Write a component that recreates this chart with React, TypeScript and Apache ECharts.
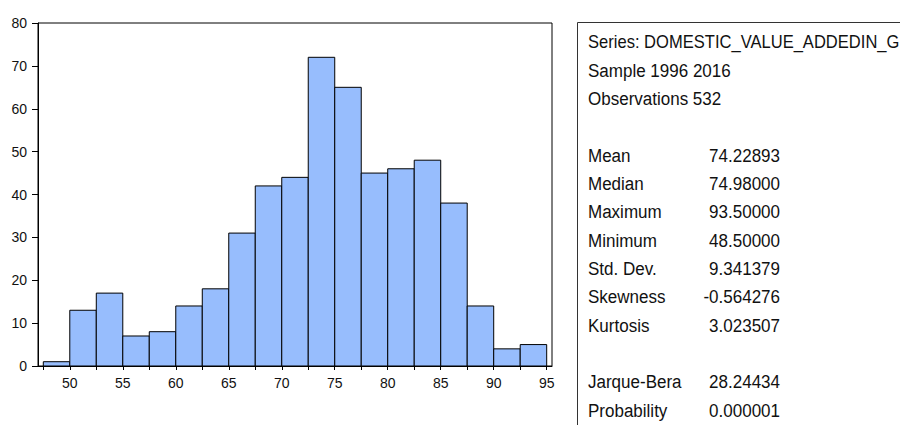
import React, { useEffect, useRef } from "react";
import * as echarts from "echarts";

// Histogram bins (left edges) and frequencies
const binStarts = [47.5, 50, 52.5, 55, 57.5, 60, 62.5, 65, 67.5, 70, 72.5, 75, 77.5, 80, 82.5, 85, 87.5, 90, 92.5];
const binWidth = 2.5;
const counts = [1, 13, 17, 7, 8, 14, 18, 31, 42, 44, 72, 65, 45, 46, 48, 38, 14, 4, 5];

// Axis ticks and labels
const xTickValues = [47.5, 50, 52.5, 55, 57.5, 60, 62.5, 65, 67.5, 70, 72.5, 75, 77.5, 80, 82.5, 85, 87.5, 90, 92.5, 95];
const xLabelValues = [50, 55, 60, 65, 70, 75, 80, 85, 90, 95];
const yTickValues = [0, 10, 20, 30, 40, 50, 60, 70, 80];

// Descriptive statistics panel
const headerLines = ["Series: DOMESTIC_VALUE_ADDEDIN_G", "Sample 1996 2016", "Observations 532"];
const statNames = ["Mean", "Median", "Maximum", "Minimum", "Std. Dev.", "Skewness", "Kurtosis"];
const statValues = ["74.22893", "74.98000", "93.50000", "48.50000", "9.341379", "-0.564276", "3.023507"];
const testNames = ["Jarque-Bera", "Probability"];
const testValues = ["28.24434", "0.000001"];

const FONT = "'Liberation Sans', Arial, sans-serif";

export default function App() {
  const ref = useRef<HTMLDivElement>(null);

  useEffect(() => {
    document.body.style.margin = "0";
    if (!ref.current) return;
    const chart = echarts.init(ref.current, null, { renderer: "svg" });

    const rowTop = 42;
    const rowStep = 28.35;
    const labelX = 588;
    const valueX = 780;
    const squeeze = 0.945;
    const panelText = (text: string, x: number, row: number, align: "left" | "right", sx = squeeze) => ({
      type: "text",
      x,
      y: rowTop + rowStep * row,
      scaleX: sx,
      style: {
        text,
        x: 0,
        y: 0,
        align,
        verticalAlign: "middle",
        fill: "#111",
        font: `18px ${FONT}`,
      },
      silent: true,
    });

    const graphics: any[] = [
      { type: "line", shape: { x1: 577.5, y1: 22.5, x2: 900, y2: 22.5 }, style: { stroke: "#333", lineWidth: 1 } },
      { type: "line", shape: { x1: 577.5, y1: 22.5, x2: 577.5, y2: 425 }, style: { stroke: "#333", lineWidth: 1 } },
    ];
    // the long series name is squeezed a little more so it stays inside the panel
    headerLines.forEach((t, i) => graphics.push(panelText(t, labelX, i, "left", i === 0 ? 0.92 : squeeze)));
    statNames.forEach((t, i) => {
      graphics.push(panelText(t, labelX, 4 + i, "left"));
      graphics.push(panelText(statValues[i], valueX, 4 + i, "right"));
    });
    testNames.forEach((t, i) => {
      graphics.push(panelText(t, labelX, 12 + i, "left"));
      graphics.push(panelText(testValues[i], valueX, 12 + i, "right"));
    });

    const data = binStarts.map((s, i) => [s, s + binWidth, counts[i]]);

    chart.setOption({
      animation: false,
      backgroundColor: "#fff",
      grid: {
        left: 38,
        top: 23,
        right: 348,
        bottom: 59,
        show: true,
        borderColor: "#000",
        borderWidth: 1,
        backgroundColor: "transparent",
      },
      xAxis: {
        type: "value",
        min: 47,
        max: 95.5,
        axisLine: { show: true, onZero: false, lineStyle: { color: "#000", width: 1 } },
        axisTick: { show: true, inside: false, length: 4, customValues: xTickValues, lineStyle: { color: "#000" } },
        axisLabel: {
          customValues: xLabelValues,
          margin: 10,
          color: "#111",
          fontFamily: FONT,
          fontSize: 14,
        },
        splitLine: { show: false },
      },
      yAxis: {
        type: "value",
        min: 0,
        max: 80,
        interval: 10,
        axisLine: { show: true, lineStyle: { color: "#000", width: 1 } },
        axisTick: { show: true, inside: false, length: 6, lineStyle: { color: "#000" } },
        axisLabel: {
          customValues: yTickValues,
          margin: 11,
          color: "#111",
          fontFamily: FONT,
          fontSize: 14,
          padding: [0, 0, 7, 0],
        },
        splitLine: { show: false },
      },
      series: [
        {
          type: "custom",
          data,
          encode: { x: [0, 1], y: 2 },
          renderItem: (_params: any, api: any) => {
            const lo = api.value(0);
            const hi = api.value(1);
            const n = api.value(2);
            const p0 = api.coord([lo, n]);
            const p1 = api.coord([hi, 0]);
            return {
              type: "rect",
              shape: { x: p0[0], y: p0[1], width: p1[0] - p0[0], height: p1[1] - p0[1] },
              style: { fill: "#97bdfd", stroke: "#000", lineWidth: 1 },
            };
          },
        },
      ],
      graphic: graphics,
    });

    return () => chart.dispose();
  }, []);

  return <div ref={ref} style={{ width: 900, height: 425 }} />;
}
